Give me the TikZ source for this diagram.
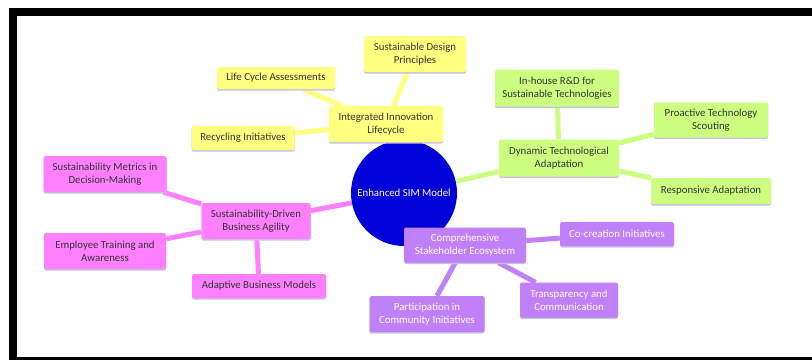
\documentclass[tikz,border=0pt]{standalone}
\usepackage{fontspec}
\setmainfont{Carlito}
\usetikzlibrary{backgrounds,shadows}
\definecolor{yel}{HTML}{FFFF80}
\definecolor{grn}{HTML}{CCFF80}
\definecolor{pnk}{HTML}{FF80FF}
\definecolor{pur}{HTML}{C080F8}
\definecolor{hubblue}{HTML}{0000D8}
\definecolor{shd}{HTML}{C8C0E0}
\definecolor{txt}{HTML}{333333}
\tikzset{
  box/.style={rectangle,rounded corners=1.5pt,align=center,inner xsep=3pt,inner ysep=4pt,
    minimum height=24pt,font=\fontsize{10.8}{13}\selectfont,
    drop shadow={shadow xshift=0pt,shadow yshift=-1.5pt,fill=shd,opacity=1}},
  ybox/.style={box,fill=yel,text=txt},
  gbox/.style={box,fill=grn,text=txt},
  pbox/.style={box,fill=pnk,text=txt},
  vbox/.style={box,fill=pur,text=white},
  hub/.style={circle,fill=hubblue,text=white,minimum size=106pt,inner sep=0pt,
    font=\fontsize{10.8}{13}\selectfont},
  link/.style={line width=5pt},
}

\begin{document}
\begin{tikzpicture}[x=1pt,y=-1pt]
\useasboundingbox (0,0) rectangle (812,360);
% frame
\fill (9,8) rectangle (812,16);
\fill (9,8) rectangle (17,360);
\fill (9,357) rectangle (812,360);
% centre
\node[hub] (sim) at (404,193) {Enhanced SIM Model};
% yellow branch
\node[ybox,minimum width=114,minimum height=36] (iil) at (386,124) {Integrated Innovation\\Lifecycle};
\node[ybox,minimum width=102,minimum height=36] (sdp) at (415,54) {Sustainable Design\\Principles};
\node[ybox,minimum width=118,minimum height=22] (lca) at (276,78) {Life Cycle Assessments};
\node[ybox,minimum width=103] (rci) at (243,138) {Recycling Initiatives};
% green branch
\node[gbox,minimum width=120,minimum height=37] (dta) at (559,158) {Dynamic Technological\\Adaptation};
\node[gbox,minimum width=124,minimum height=37] (ird) at (557,88) {In-house R\&D for\\Sustainable Technologies};
\node[gbox,minimum width=114,minimum height=35] (pts) at (711,120) {Proactive Technology\\Scouting};
\node[gbox,minimum width=120,minimum height=26] (rad) at (711,191) {Responsive Adaptation};
% pink branch
\node[pbox,minimum width=109,minimum height=36] (sdba) at (256,221) {Sustainability-Driven\\Business Agility};
\node[pbox,minimum width=123,minimum height=36] (smd) at (105,174) {Sustainability Metrics in\\Decision-Making};
\node[pbox,minimum width=122,minimum height=36] (eta) at (105,251) {Employee Training and\\Awareness};
\node[pbox,minimum width=134] (abm) at (259,286) {Adaptive Business Models};
% purple branch
\node[vbox,minimum width=122,minimum height=35] (cse) at (465,245) {Comprehensive\\Stakeholder Ecosystem};
\node[vbox,minimum width=114] (cci) at (617,234) {Co-creation Initiatives};
\node[vbox,minimum width=98,minimum height=35] (tac) at (569,300) {Transparency and\\Communication};
\node[vbox,minimum width=115,minimum height=36] (pci) at (427,314) {Participation in\\Community Initiatives};
% links
\begin{pgfonlayer}{background}
\draw[link,yel] (sim) -- (iil);
\draw[link,yel] (iil) -- (sdp);
\draw[link,yel] (iil) -- (lca);
\draw[link,yel] (iil) -- (rci);
\draw[link,grn] (sim) -- (dta);
\draw[link,grn] (dta) -- (ird);
\draw[link,grn] (dta) -- (pts);
\draw[link,grn] (dta) -- (rad);
\draw[link,pnk] (sim) -- (sdba);
\draw[link,pnk] (sdba) -- (smd);
\draw[link,pnk] (sdba) -- (eta);
\draw[link,pnk] (sdba) -- (abm);
\draw[link,pur] (sim) -- (cse);
\draw[link,pur] (cse) -- (cci);
\draw[link,pur] (cse) -- (tac);
\draw[link,pur] (cse) -- (pci);
\end{pgfonlayer}
\end{tikzpicture}
\end{document}
